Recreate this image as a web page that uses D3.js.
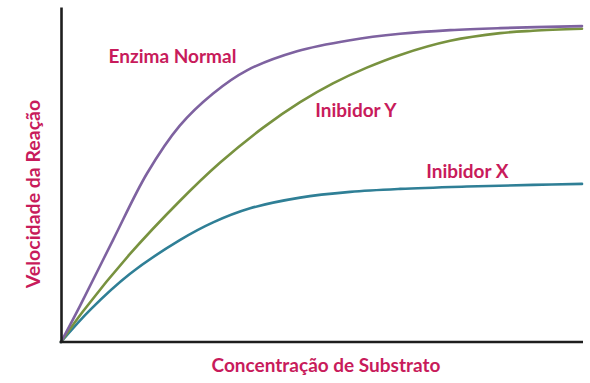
<!DOCTYPE html>
<html>
<head>
<meta charset="utf-8">
<script src="https://cdn.jsdelivr.net/npm/d3@7"></script>
<style>
  html, body { margin: 0; padding: 0; background: #fff; }
  svg { display: block; }
  text { font-family: Lato, "Open Sans", sans-serif; font-weight: 700; fill: #c81b5b; }
</style>
</head>
<body>
<svg id="chart" width="590" height="383"></svg>
<script>
// Substrate concentration (x) and reaction velocity (y) (0–100 scale)
const normalX = [0, 3.65, 10.0, 16.5, 22.8, 29.2, 35.7, 45.3, 55.5, 65.1, 74.7, 84.3, 100];
const normalY = [0, 10.8, 30.5, 50.3, 64.6, 74.2, 81.1, 86.8, 90.1, 92.0, 93.1, 93.7, 94.3];

const inibYX = [0, 4.2, 13.2, 22.8, 30.5, 38.8, 45.9, 52.2, 58.7, 65.1, 74.7, 84.3, 90.6, 100];
const inibYY = [0, 9.1, 26.2, 42.1, 53.5, 64.0, 71.6, 77.2, 81.9, 85.7, 89.9, 92.2, 92.9, 93.5];

const inibXX = [0, 5.6, 13.2, 22.8, 29.2, 36.3, 45.9, 55.5, 65.1, 77.9, 90.6, 100];
const inibXY = [0, 9.6, 20.3, 30.4, 35.7, 39.9, 43.1, 44.8, 45.7, 46.4, 46.9, 47.2];

const seriesNames = ["Enzima Normal", "Inibidor Y", "Inibidor X"];
const labelX = [21.4, 56.6, 78.0];
const labelY = [83.3, 67.2, 49.0];

const xTitle = "Concentração de Substrato";
const yTitle = "Velocidade da Reação";

const colors = ["#7e62a0", "#78923f", "#2f7f96"];

const svg = d3.select("#chart");
const x = d3.scaleLinear().domain([0, 100]).range([61, 582]);
const y = d3.scaleLinear().domain([0, 100]).range([342, 7]);

const series = [
  d3.zip(normalX, normalY),
  d3.zip(inibYX, inibYY),
  d3.zip(inibXX, inibXY)
];

const line = d3.line().x(d => x(d[0])).y(d => y(d[1])).curve(d3.curveCatmullRom.alpha(0.5));

// draw order: teal, green, purple on top
[2, 1, 0].forEach(i => {
  svg.append("path")
    .datum(series[i])
    .attr("d", line)
    .attr("fill", "none")
    .attr("stroke", colors[i])
    .attr("stroke-width", 2.6)
    .attr("stroke-linecap", "round");
});

// axes (no ticks)
const xAxis = svg.append("g").attr("transform", `translate(0,${y(0)})`)
  .call(d3.axisBottom(x).tickValues([]).tickSizeOuter(0));
const yAxis = svg.append("g").attr("transform", `translate(${x(0)},0)`)
  .call(d3.axisLeft(y).tickValues([]).tickSizeOuter(0));
[xAxis, yAxis].forEach(g => g.select(".domain").attr("stroke", "#1e1e1e").attr("stroke-width", 2.6));
xAxis.select(".domain").attr("d", `M${x(0) - 1.3},0H${x(100) + 1}`);

// series labels
seriesNames.forEach((name, i) => {
  svg.append("text")
    .attr("x", x(labelX[i]))
    .attr("y", y(labelY[i]))
    .attr("text-anchor", "middle")
    .attr("font-size", 19)
    .text(name);
});

// axis titles
svg.append("text")
  .attr("x", 326).attr("y", 372)
  .attr("text-anchor", "middle")
  .attr("font-size", 19)
  .text(xTitle);

svg.append("text")
  .attr("transform", "translate(40,194) rotate(-90)")
  .attr("text-anchor", "middle")
  .attr("font-size", 19.5)
  .text(yTitle);
</script>
</body>
</html>
